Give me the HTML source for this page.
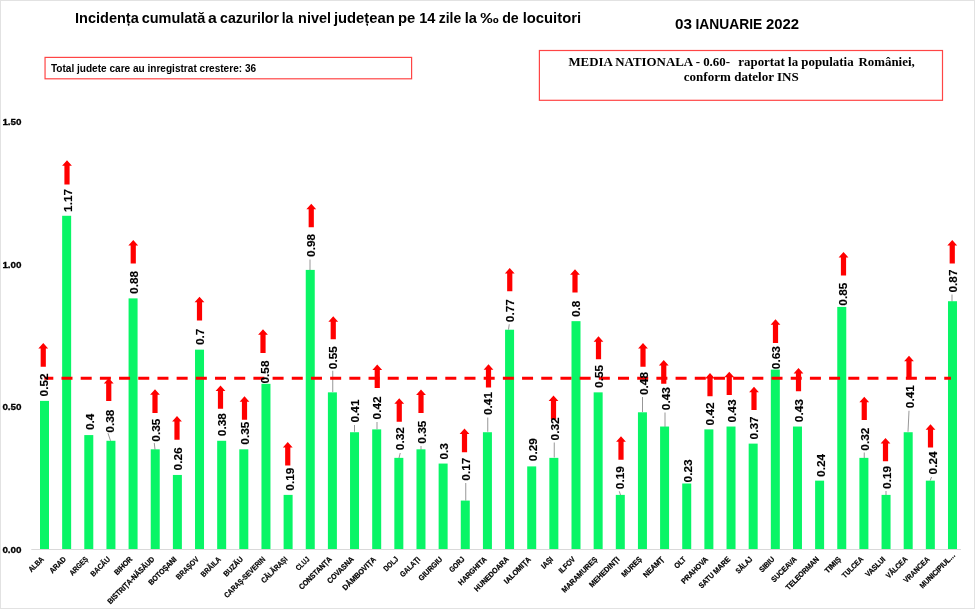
<!DOCTYPE html>
<html lang="ro">
<head>
<meta charset="utf-8">
<title>Incidența cumulată a cazurilor la nivel județean pe 14 zile</title>
<style>
html,body{margin:0;padding:0;background:#fff;}
body{width:975px;height:609px;overflow:hidden;position:relative;}
svg{display:block;position:absolute;left:0;top:0;}
text{font-family:"Liberation Sans",Arial,sans-serif;font-weight:bold;fill:#000;}
.serif{font-family:"Liberation Serif","Times New Roman",serif;font-weight:bold;}
.cat{font-size:7.7px;text-anchor:end;stroke:#000;stroke-width:0.2px;}
.val{font-size:11.8px;text-anchor:middle;stroke:#000;stroke-width:0.15px;}
.ax{font-size:9.8px;stroke:#000;stroke-width:0.3px;}
.bar{fill:#09f566;}
.arw{fill:#ff0000;}
.ldr{stroke:#505050;stroke-width:0.6;fill:none;}
</style>
</head>
<body>
<svg width="975" height="609" viewBox="0 0 975 609">
<rect x="0" y="0" width="975" height="609" fill="#ffffff"/>
<rect x="0.5" y="0.5" width="974" height="608" fill="none" stroke="#e2e2e2" stroke-width="1"/>
<text y="22.7" font-size="14.9"><tspan x="75.0" textLength="63.8" lengthAdjust="spacingAndGlyphs">Incidența</tspan> <tspan x="141.7" textLength="63.5" lengthAdjust="spacingAndGlyphs">cumulată</tspan> <tspan x="208.0" textLength="8.8" lengthAdjust="spacingAndGlyphs">a</tspan> <tspan x="220.1" textLength="58.9" lengthAdjust="spacingAndGlyphs">cazurilor</tspan> <tspan x="281.7" textLength="11.7" lengthAdjust="spacingAndGlyphs">la</tspan> <tspan x="298.1" textLength="32.9" lengthAdjust="spacingAndGlyphs">nivel</tspan> <tspan x="333.9" textLength="60.8" lengthAdjust="spacingAndGlyphs">județean</tspan> <tspan x="397.9" textLength="17.3" lengthAdjust="spacingAndGlyphs">pe</tspan> <tspan x="419.2" textLength="16.2" lengthAdjust="spacingAndGlyphs">14</tspan> <tspan x="438.7" textLength="22.5" lengthAdjust="spacingAndGlyphs">zile</tspan> <tspan x="464.8" textLength="12.2" lengthAdjust="spacingAndGlyphs">la</tspan> <tspan x="480.3" textLength="18.5" lengthAdjust="spacingAndGlyphs">‰</tspan> <tspan x="502.2" textLength="16.6" lengthAdjust="spacingAndGlyphs">de</tspan> <tspan x="522.7" textLength="58.4" lengthAdjust="spacingAndGlyphs">locuitori</tspan></text>
<text y="29.4" font-size="14.7"><tspan x="674.9" textLength="17.0" lengthAdjust="spacingAndGlyphs">03</tspan> <tspan x="695.4" textLength="66.8" lengthAdjust="spacingAndGlyphs">IANUARIE</tspan> <tspan x="766.0" textLength="33.1" lengthAdjust="spacingAndGlyphs">2022</tspan></text>
<rect x="45.05" y="57.4" width="366.55" height="21.4" fill="#fff" stroke="#ff4545" stroke-width="1.2"/>
<text x="50.9" y="71.5" font-size="10.2" textLength="205.2" lengthAdjust="spacingAndGlyphs">Total judete care au inregistrat crestere: 36</text>
<rect x="539.4" y="50.5" width="403.1" height="49.8" fill="#fff" stroke="#ff4545" stroke-width="1.2"/>
<text class="serif" y="66.2" font-size="12.9"><tspan x="568.4">MEDIA NATIONALA - 0.60-</tspan>  <tspan x="738.3">raportat la populatia</tspan>  <tspan x="858.5">României,</tspan></text>
<text class="serif" x="741.3" y="81.1" font-size="13.05" text-anchor="middle">conform datelor INS</text>
<text class="ax" x="2.4" y="125.45" textLength="19.2" lengthAdjust="spacingAndGlyphs">1.50</text>
<text class="ax" x="2.4" y="267.80" textLength="19.2" lengthAdjust="spacingAndGlyphs">1.00</text>
<text class="ax" x="2.4" y="410.15" textLength="19.2" lengthAdjust="spacingAndGlyphs">0.50</text>
<text class="ax" x="2.4" y="552.50" textLength="19.2" lengthAdjust="spacingAndGlyphs">0.00</text>
<line x1="31.3" y1="549.5" x2="961" y2="549.5" stroke="#d9d9d9" stroke-width="1"/>
<g class="bar">
<rect x="40.00" y="400.90" width="9.0" height="148.10"/>
<rect x="62.15" y="215.78" width="9.0" height="333.22"/>
<rect x="84.29" y="435.08" width="9.0" height="113.92"/>
<rect x="106.44" y="440.78" width="9.0" height="108.22"/>
<rect x="128.58" y="298.38" width="9.0" height="250.62"/>
<rect x="150.73" y="449.32" width="9.0" height="99.68"/>
<rect x="172.88" y="474.95" width="9.0" height="74.05"/>
<rect x="195.02" y="349.64" width="9.0" height="199.36"/>
<rect x="217.17" y="440.78" width="9.0" height="108.22"/>
<rect x="239.31" y="449.32" width="9.0" height="99.68"/>
<rect x="261.46" y="383.82" width="9.0" height="165.18"/>
<rect x="283.61" y="494.89" width="9.0" height="54.11"/>
<rect x="305.75" y="269.90" width="9.0" height="279.10"/>
<rect x="327.90" y="392.36" width="9.0" height="156.64"/>
<rect x="350.04" y="432.23" width="9.0" height="116.77"/>
<rect x="372.19" y="429.38" width="9.0" height="119.62"/>
<rect x="394.34" y="457.86" width="9.0" height="91.14"/>
<rect x="416.48" y="449.32" width="9.0" height="99.68"/>
<rect x="438.63" y="463.56" width="9.0" height="85.44"/>
<rect x="460.77" y="500.58" width="9.0" height="48.42"/>
<rect x="482.92" y="432.23" width="9.0" height="116.77"/>
<rect x="505.07" y="329.70" width="9.0" height="219.30"/>
<rect x="527.21" y="466.41" width="9.0" height="82.59"/>
<rect x="549.36" y="457.86" width="9.0" height="91.14"/>
<rect x="571.50" y="321.16" width="9.0" height="227.84"/>
<rect x="593.65" y="392.36" width="9.0" height="156.64"/>
<rect x="615.80" y="494.89" width="9.0" height="54.11"/>
<rect x="637.94" y="412.30" width="9.0" height="136.70"/>
<rect x="660.09" y="426.54" width="9.0" height="122.46"/>
<rect x="682.23" y="483.50" width="9.0" height="65.50"/>
<rect x="704.38" y="429.38" width="9.0" height="119.62"/>
<rect x="726.53" y="426.54" width="9.0" height="122.46"/>
<rect x="748.67" y="443.62" width="9.0" height="105.38"/>
<rect x="770.82" y="369.58" width="9.0" height="179.42"/>
<rect x="792.96" y="426.54" width="9.0" height="122.46"/>
<rect x="815.11" y="480.65" width="9.0" height="68.35"/>
<rect x="837.26" y="306.92" width="9.0" height="242.08"/>
<rect x="859.40" y="457.86" width="9.0" height="91.14"/>
<rect x="881.55" y="494.89" width="9.0" height="54.11"/>
<rect x="903.69" y="432.23" width="9.0" height="116.77"/>
<rect x="925.84" y="480.65" width="9.0" height="68.35"/>
<rect x="947.99" y="301.22" width="9.0" height="247.78"/>
</g>
<g class="ldr">
<line x1="108.00" y1="433.25" x2="110.50" y2="440.75"/>
<line x1="154.25" y1="443.00" x2="155.00" y2="449.50"/>
<line x1="310.00" y1="259.50" x2="310.00" y2="270.00"/>
<line x1="332.75" y1="370.75" x2="332.75" y2="392.00"/>
<line x1="354.50" y1="425.00" x2="354.50" y2="431.75"/>
<line x1="377.00" y1="422.00" x2="377.00" y2="429.25"/>
<line x1="400.25" y1="453.00" x2="399.00" y2="458.00"/>
<line x1="421.00" y1="446.00" x2="421.00" y2="449.50"/>
<line x1="465.75" y1="483.00" x2="465.75" y2="500.50"/>
<line x1="487.75" y1="417.50" x2="487.75" y2="431.75"/>
<line x1="509.25" y1="324.25" x2="508.50" y2="329.50"/>
<line x1="554.25" y1="442.50" x2="554.25" y2="457.50"/>
<line x1="619.25" y1="491.25" x2="620.50" y2="495.00"/>
<line x1="642.50" y1="397.00" x2="642.50" y2="412.00"/>
<line x1="665.00" y1="412.50" x2="665.00" y2="426.75"/>
<line x1="864.25" y1="452.50" x2="864.25" y2="458.00"/>
<line x1="886.00" y1="491.00" x2="886.00" y2="495.00"/>
<line x1="909.00" y1="410.75" x2="908.00" y2="431.75"/>
<line x1="931.50" y1="477.00" x2="930.25" y2="480.50"/>
<line x1="952.00" y1="294.50" x2="952.00" y2="301.25"/>
</g>
<line x1="44.4" y1="378.3" x2="951" y2="378.3" stroke="#ff0000" stroke-width="3" stroke-dasharray="11 8.19" stroke-dashoffset="2.09"/>
<g class="arw">
<polygon points="43.25,342.90 48.15,348.40 45.85,348.40 45.85,366.85 40.65,366.85 40.65,348.40 38.35,348.40"/>
<polygon points="67.00,160.20 71.90,165.70 69.60,165.70 69.60,184.60 64.40,184.60 64.40,165.70 62.10,165.70"/>
<polygon points="108.75,377.90 113.65,383.40 111.35,383.40 111.35,401.10 106.15,401.10 106.15,383.40 103.85,383.40"/>
<polygon points="133.25,239.90 138.15,245.40 135.85,245.40 135.85,263.60 130.65,263.60 130.65,245.40 128.35,245.40"/>
<polygon points="155.00,389.15 159.90,394.65 157.60,394.65 157.60,413.10 152.40,413.10 152.40,394.65 150.10,394.65"/>
<polygon points="177.00,415.90 181.90,421.40 179.60,421.40 179.60,439.85 174.40,439.85 174.40,421.40 172.10,421.40"/>
<polygon points="199.50,296.65 204.40,302.15 202.10,302.15 202.10,320.60 196.90,320.60 196.90,302.15 194.60,302.15"/>
<polygon points="220.50,385.40 225.40,390.90 223.10,390.90 223.10,408.85 217.90,408.85 217.90,390.90 215.60,390.90"/>
<polygon points="244.50,396.15 249.40,401.65 247.10,401.65 247.10,419.85 241.90,419.85 241.90,401.65 239.60,401.65"/>
<polygon points="263.00,329.15 267.90,334.65 265.60,334.65 265.60,353.10 260.40,353.10 260.40,334.65 258.10,334.65"/>
<polygon points="287.75,441.90 292.65,447.40 290.35,447.40 290.35,465.60 285.15,465.60 285.15,447.40 282.85,447.40"/>
<polygon points="311.25,203.65 316.15,209.15 313.85,209.15 313.85,227.35 308.65,227.35 308.65,209.15 306.35,209.15"/>
<polygon points="333.25,316.15 338.15,321.65 335.85,321.65 335.85,339.35 330.65,339.35 330.65,321.65 328.35,321.65"/>
<polygon points="377.25,364.40 382.15,369.90 379.85,369.90 379.85,388.10 374.65,388.10 374.65,369.90 372.35,369.90"/>
<polygon points="399.25,398.15 404.15,403.65 401.85,403.65 401.85,421.85 396.65,421.85 396.65,403.65 394.35,403.65"/>
<polygon points="421.00,389.40 425.90,394.90 423.60,394.90 423.60,413.10 418.40,413.10 418.40,394.90 416.10,394.90"/>
<polygon points="464.50,428.40 469.40,433.90 467.10,433.90 467.10,452.35 461.90,452.35 461.90,433.90 459.60,433.90"/>
<polygon points="488.50,364.15 493.40,369.65 491.10,369.65 491.10,387.60 485.90,387.60 485.90,369.65 483.60,369.65"/>
<polygon points="509.75,267.90 514.65,273.40 512.35,273.40 512.35,291.35 507.15,291.35 507.15,273.40 504.85,273.40"/>
<polygon points="553.50,395.40 558.40,400.90 556.10,400.90 556.10,419.35 550.90,419.35 550.90,400.90 548.60,400.90"/>
<polygon points="575.00,269.15 579.90,274.65 577.60,274.65 577.60,292.60 572.40,292.60 572.40,274.65 570.10,274.65"/>
<polygon points="598.50,336.15 603.40,341.65 601.10,341.65 601.10,359.35 595.90,359.35 595.90,341.65 593.60,341.65"/>
<polygon points="621.00,436.15 625.90,441.65 623.60,441.65 623.60,459.85 618.40,459.85 618.40,441.65 616.10,441.65"/>
<polygon points="643.00,342.90 647.90,348.40 645.60,348.40 645.60,366.85 640.40,366.85 640.40,348.40 638.10,348.40"/>
<polygon points="663.75,359.90 668.65,365.40 666.35,365.40 666.35,383.85 661.15,383.85 661.15,365.40 658.85,365.40"/>
<polygon points="710.00,372.90 714.90,378.40 712.60,378.40 712.60,396.35 707.40,396.35 707.40,378.40 705.10,378.40"/>
<polygon points="729.25,371.65 734.15,377.15 731.85,377.15 731.85,395.10 726.65,395.10 726.65,377.15 724.35,377.15"/>
<polygon points="754.00,386.65 758.90,392.15 756.60,392.15 756.60,410.10 751.40,410.10 751.40,392.15 749.10,392.15"/>
<polygon points="775.50,319.15 780.40,324.65 778.10,324.65 778.10,343.10 772.90,343.10 772.90,324.65 770.60,324.65"/>
<polygon points="798.50,367.90 803.40,373.40 801.10,373.40 801.10,391.35 795.90,391.35 795.90,373.40 793.60,373.40"/>
<polygon points="843.50,251.90 848.40,257.40 846.10,257.40 846.10,275.60 840.90,275.60 840.90,257.40 838.60,257.40"/>
<polygon points="864.25,396.65 869.15,402.15 866.85,402.15 866.85,420.10 861.65,420.10 861.65,402.15 859.35,402.15"/>
<polygon points="885.50,437.90 890.40,443.40 888.10,443.40 888.10,461.35 882.90,461.35 882.90,443.40 880.60,443.40"/>
<polygon points="909.00,355.65 913.90,361.15 911.60,361.15 911.60,379.35 906.40,379.35 906.40,361.15 904.10,361.15"/>
<polygon points="930.50,424.15 935.40,429.65 933.10,429.65 933.10,447.60 927.90,447.60 927.90,429.65 925.60,429.65"/>
<polygon points="952.25,239.90 957.15,245.40 954.85,245.40 954.85,263.60 949.65,263.60 949.65,245.40 947.35,245.40"/>
</g>
<g class="val">
<text transform="translate(47.90 384.90) rotate(-90)">0.52</text>
<text transform="translate(71.90 200.40) rotate(-90)">1.17</text>
<text transform="translate(94.10 421.90) rotate(-90)">0.4</text>
<text transform="translate(114.10 421.15) rotate(-90)">0.38</text>
<text transform="translate(138.10 282.40) rotate(-90)">0.88</text>
<text transform="translate(159.50 430.15) rotate(-90)">0.35</text>
<text transform="translate(182.00 458.90) rotate(-90)">0.26</text>
<text transform="translate(204.10 336.90) rotate(-90)">0.7</text>
<text transform="translate(226.10 424.65) rotate(-90)">0.38</text>
<text transform="translate(248.90 433.15) rotate(-90)">0.35</text>
<text transform="translate(268.90 372.02) rotate(-90)">0.58</text>
<text transform="translate(293.50 479.15) rotate(-90)">0.19</text>
<text transform="translate(315.10 245.40) rotate(-90)">0.98</text>
<text transform="translate(337.40 357.65) rotate(-90)">0.55</text>
<text transform="translate(359.10 411.02) rotate(-90)">0.41</text>
<text transform="translate(381.10 407.90) rotate(-90)">0.42</text>
<text transform="translate(404.10 438.65) rotate(-90)">0.32</text>
<text transform="translate(425.90 432.15) rotate(-90)">0.35</text>
<text transform="translate(447.90 451.27) rotate(-90)">0.3</text>
<text transform="translate(470.40 469.15) rotate(-90)">0.17</text>
<text transform="translate(492.40 403.52) rotate(-90)">0.41</text>
<text transform="translate(513.90 310.65) rotate(-90)">0.77</text>
<text transform="translate(536.90 449.65) rotate(-90)">0.29</text>
<text transform="translate(558.60 428.90) rotate(-90)">0.32</text>
<text transform="translate(580.10 308.90) rotate(-90)">0.8</text>
<text transform="translate(603.10 376.40) rotate(-90)">0.55</text>
<text transform="translate(623.60 477.65) rotate(-90)">0.19</text>
<text transform="translate(648.10 383.52) rotate(-90)">0.48</text>
<text transform="translate(669.60 398.65) rotate(-90)">0.43</text>
<text transform="translate(691.90 470.90) rotate(-90)">0.23</text>
<text transform="translate(713.75 413.90) rotate(-90)">0.42</text>
<text transform="translate(735.60 411.02) rotate(-90)">0.43</text>
<text transform="translate(758.10 427.90) rotate(-90)">0.37</text>
<text transform="translate(779.90 357.65) rotate(-90)">0.63</text>
<text transform="translate(802.90 410.65) rotate(-90)">0.43</text>
<text transform="translate(824.90 465.40) rotate(-90)">0.24</text>
<text transform="translate(847.40 294.15) rotate(-90)">0.85</text>
<text transform="translate(868.60 439.15) rotate(-90)">0.32</text>
<text transform="translate(890.60 477.40) rotate(-90)">0.19</text>
<text transform="translate(914.10 396.65) rotate(-90)">0.41</text>
<text transform="translate(936.60 462.90) rotate(-90)">0.24</text>
<text transform="translate(957.10 281.02) rotate(-90)">0.87</text>
</g>
<g class="cat">
<text transform="translate(44.30 559.80) rotate(-45)" textLength="18.1" lengthAdjust="spacingAndGlyphs">ALBA</text>
<text transform="translate(66.45 559.80) rotate(-45)" textLength="19.8" lengthAdjust="spacingAndGlyphs">ARAD</text>
<text transform="translate(88.59 559.80) rotate(-45)" textLength="22.8" lengthAdjust="spacingAndGlyphs">ARGEȘ</text>
<text transform="translate(110.74 559.80) rotate(-45)" textLength="24.3" lengthAdjust="spacingAndGlyphs">BACĂU</text>
<text transform="translate(132.88 559.80) rotate(-45)" textLength="22.2" lengthAdjust="spacingAndGlyphs">BIHOR</text>
<text transform="translate(155.03 559.80) rotate(-45)" textLength="63.1" lengthAdjust="spacingAndGlyphs">BISTRIȚA-NĂSĂUD</text>
<text transform="translate(177.18 559.80) rotate(-45)" textLength="36.4" lengthAdjust="spacingAndGlyphs">BOTOȘANI</text>
<text transform="translate(199.32 559.80) rotate(-45)" textLength="28.6" lengthAdjust="spacingAndGlyphs">BRAȘOV</text>
<text transform="translate(221.47 559.80) rotate(-45)" textLength="24.9" lengthAdjust="spacingAndGlyphs">BRĂILA</text>
<text transform="translate(243.61 559.80) rotate(-45)" textLength="24.3" lengthAdjust="spacingAndGlyphs">BUZĂU</text>
<text transform="translate(265.76 559.80) rotate(-45)" textLength="54.5" lengthAdjust="spacingAndGlyphs">CARAȘ-SEVERIN</text>
<text transform="translate(287.91 559.80) rotate(-45)" textLength="33.6" lengthAdjust="spacingAndGlyphs">CĂLĂRAȘI</text>
<text transform="translate(310.05 559.80) rotate(-45)" textLength="16.0" lengthAdjust="spacingAndGlyphs">CLUJ</text>
<text transform="translate(332.20 559.80) rotate(-45)" textLength="42.8" lengthAdjust="spacingAndGlyphs">CONSTANȚA</text>
<text transform="translate(354.34 559.80) rotate(-45)" textLength="34.1" lengthAdjust="spacingAndGlyphs">COVASNA</text>
<text transform="translate(376.49 559.80) rotate(-45)" textLength="43.7" lengthAdjust="spacingAndGlyphs">DÂMBOVIȚA</text>
<text transform="translate(398.64 559.80) rotate(-45)" textLength="17.0" lengthAdjust="spacingAndGlyphs">DOLJ</text>
<text transform="translate(420.78 559.80) rotate(-45)" textLength="25.0" lengthAdjust="spacingAndGlyphs">GALAȚI</text>
<text transform="translate(442.93 559.80) rotate(-45)" textLength="30.3" lengthAdjust="spacingAndGlyphs">GIURGIU</text>
<text transform="translate(465.07 559.80) rotate(-45)" textLength="18.2" lengthAdjust="spacingAndGlyphs">GORJ</text>
<text transform="translate(487.22 559.80) rotate(-45)" textLength="36.6" lengthAdjust="spacingAndGlyphs">HARGHITA</text>
<text transform="translate(509.37 559.80) rotate(-45)" textLength="45.4" lengthAdjust="spacingAndGlyphs">HUNEDOARA</text>
<text transform="translate(531.51 559.80) rotate(-45)" textLength="34.7" lengthAdjust="spacingAndGlyphs">IALOMIȚA</text>
<text transform="translate(553.66 559.80) rotate(-45)" textLength="13.3" lengthAdjust="spacingAndGlyphs">IAȘI</text>
<text transform="translate(575.80 559.80) rotate(-45)" textLength="19.9" lengthAdjust="spacingAndGlyphs">ILFOV</text>
<text transform="translate(597.95 559.80) rotate(-45)" textLength="47.0" lengthAdjust="spacingAndGlyphs">MARAMUREȘ</text>
<text transform="translate(620.10 559.80) rotate(-45)" textLength="39.5" lengthAdjust="spacingAndGlyphs">MEHEDINȚI</text>
<text transform="translate(642.24 559.80) rotate(-45)" textLength="25.1" lengthAdjust="spacingAndGlyphs">MUREȘ</text>
<text transform="translate(664.39 559.80) rotate(-45)" textLength="25.7" lengthAdjust="spacingAndGlyphs">NEAMȚ</text>
<text transform="translate(686.53 559.80) rotate(-45)" textLength="13.1" lengthAdjust="spacingAndGlyphs">OLT</text>
<text transform="translate(708.68 559.80) rotate(-45)" textLength="34.6" lengthAdjust="spacingAndGlyphs">PRAHOVA</text>
<text transform="translate(730.83 559.80) rotate(-45)" textLength="41.1" lengthAdjust="spacingAndGlyphs">SATU MARE</text>
<text transform="translate(752.97 559.80) rotate(-45)" textLength="20.1" lengthAdjust="spacingAndGlyphs">SĂLAJ</text>
<text transform="translate(775.12 559.80) rotate(-45)" textLength="18.3" lengthAdjust="spacingAndGlyphs">SIBIU</text>
<text transform="translate(797.26 559.80) rotate(-45)" textLength="32.5" lengthAdjust="spacingAndGlyphs">SUCEAVA</text>
<text transform="translate(819.41 559.80) rotate(-45)" textLength="43.4" lengthAdjust="spacingAndGlyphs">TELEORMAN</text>
<text transform="translate(841.56 559.80) rotate(-45)" textLength="19.6" lengthAdjust="spacingAndGlyphs">TIMIȘ</text>
<text transform="translate(863.70 559.80) rotate(-45)" textLength="26.3" lengthAdjust="spacingAndGlyphs">TULCEA</text>
<text transform="translate(885.85 559.80) rotate(-45)" textLength="24.8" lengthAdjust="spacingAndGlyphs">VASLUI</text>
<text transform="translate(907.99 559.80) rotate(-45)" textLength="26.7" lengthAdjust="spacingAndGlyphs">VÂLCEA</text>
<text transform="translate(930.14 559.80) rotate(-45)" textLength="33.3" lengthAdjust="spacingAndGlyphs">VRANCEA</text>
<text transform="translate(955.89 555.70) rotate(-45)" textLength="46.8" lengthAdjust="spacingAndGlyphs">MUNICIPIUL…</text>
</g>
</svg>
</body>
</html>
